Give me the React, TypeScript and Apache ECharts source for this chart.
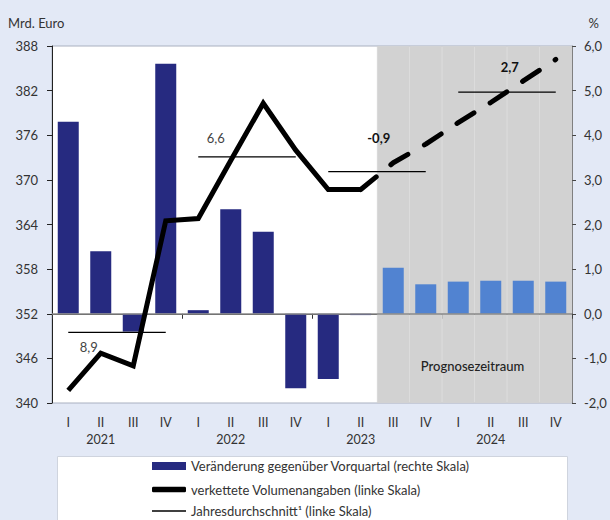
import React, { useEffect, useRef } from "react";
import * as echarts from "echarts";

// ---------- data ----------
const years = ["2021", "2022", "2023", "2024"];
const quarters = ["I", "II", "III", "IV"];
const categories = years.flatMap((y) => quarters.map((q) => `${q} ${y}`));

// Veränderung gegenüber Vorquartal in % (rechte Skala)
const changeValues = [4.3, 1.4, -0.4, 5.6, 0.08, 2.34, 1.84, -1.67, -1.46, -0.03, 1.03, 0.66, 0.72, 0.74, 0.74, 0.72];
// verkettete Volumenangaben, Mrd. Euro (linke Skala) – Ist-Werte I/2021 … II/2023
const volumeActual = [341.7, 346.7, 345.0, 364.5, 364.8, 372.6, 380.3, 374.0, 368.7, 368.7];
// Prognose II/2023 … IV/2024 (beginnt am letzten Ist-Wert)
const volumeForecastStartIndex = 9;
const volumeForecast = [368.7, 372.3, 374.8, 377.7, 380.4, 383.3, 386.2];
// first quarter of the forecast period
const forecastStart = 10;
// Jahresdurchschnitt (linke Skala) and annual growth labels
const annualAverage = [349.5, 373.1, 371.1, 381.8];
const annualGrowthLabels = ["8,9", "6,6", "-0,9", "2,7"];
const leftTicks = [340, 346, 352, 358, 364, 370, 376, 382, 388];
const rightMin = -2;
const rightMax = 6;

const barName = "Veränderung gegenüber Vorquartal (rechte Skala)";
const lineName = "verkettete Volumenangaben (linke Skala)";
const avgName = "Jahresdurchschnitt¹ (linke Skala)";
const forecastText = "Prognosezeitraum";

// ---------- styles ----------
const FONT = "Lato, 'DejaVu Sans', sans-serif";
const NAVY = "#262a80";
const LIGHT_BLUE = "#5183d1";
const SHADE = "#d2d2d2";
const BG = "#e3e9f6";
const TEXT = "#333";
const labelOffsets = [
  [-12, 15],
  [-15, -19],
  [18, -34],
  [19, -25],
];
const labelBold = [false, false, true, true];

export default function App() {
  const ref = useRef<HTMLDivElement>(null);

  useEffect(() => {
    if (!ref.current) return;
    const chart = echarts.init(ref.current, undefined, { renderer: "svg" });

    const avgSeries = annualAverage.map((avg, y) => ({
      name: avgName,
      type: "line",
      xAxisIndex: 0,
      yAxisIndex: 0,
      z: 4,
      silent: true,
      symbol: "circle",
      symbolSize: 0,
      showSymbol: true,
      showAllSymbol: true,
      itemStyle: { color: "#000" },
      lineStyle: { color: "#000", width: 1.3 },
      emphasis: { disabled: true },
      data: categories.map((_, i) => {
        if (Math.floor(i / 4) !== y) return null;
        if (i % 4 === 1) {
          return {
            value: avg,
            label: {
              show: true,
              formatter: annualGrowthLabels[y],
              position: "inside",
              offset: labelOffsets[y],
              fontSize: 13,
              fontFamily: FONT,
              fontWeight: labelBold[y] ? "bold" : "normal",
              color: labelBold[y] ? "#111" : "#444",
            },
          };
        }
        return avg;
      }),
    }));

    const legendText = { fontSize: 13, color: TEXT, fontFamily: FONT, lineHeight: 16 };

    const option: any = {
      animation: false,
      backgroundColor: BG,
      textStyle: { fontFamily: FONT },
      grid: {
        left: 52,
        right: 38,
        top: 46,
        bottom: 117,
        show: true,
        backgroundColor: "#fff",
        borderWidth: 1,
        borderColor: "#a9b0c0",
        containLabel: false,
      },
      xAxis: [
        {
          type: "category",
          data: categories,
          boundaryGap: true,
          axisLine: { show: true, lineStyle: { color: "#333", width: 1 } },
          axisTick: {
            show: true,
            interval: (i: number) => i % 4 === 0,
            length: 5,
            lineStyle: { color: "#333" },
          },
          axisLabel: {
            interval: 0,
            margin: 11,
            fontSize: 12.5,
            lineHeight: 17,
            color: TEXT,
            fontFamily: FONT,
            formatter: (v: string, i: number) => {
              const [q, yr] = v.split(" ");
              return i % 4 === 1 ? `${q}\n${yr}` : q;
            },
          },
          splitLine: { show: false },
        },
        {
          type: "category",
          data: categories,
          boundaryGap: true,
          show: false,
        },
      ],
      yAxis: [
        {
          type: "value",
          position: "left",
          min: leftTicks[0],
          max: leftTicks[leftTicks.length - 1],
          axisLine: { show: true, lineStyle: { color: "#222" } },
          axisTick: { show: true, customValues: leftTicks, length: 5, lineStyle: { color: "#222" } },
          axisLabel: { customValues: leftTicks, margin: 14, fontSize: 13, color: TEXT, fontFamily: FONT },
          splitLine: { show: false },
        },
        {
          type: "value",
          position: "right",
          min: rightMin,
          max: rightMax,
          interval: 1,
          axisLine: { show: true, lineStyle: { color: "#777" } },
          axisTick: { show: true, length: 4, lineStyle: { color: "#444" } },
          axisLabel: {
            margin: 12,
            fontSize: 13,
            color: TEXT,
            fontFamily: FONT,
            formatter: (v: number) => v.toFixed(1).replace(".", ","),
          },
          splitLine: { show: false },
        },
        { type: "value", show: false, min: 0, max: 1 },
      ],
      legend: [
        {
          data: [{ name: barName, icon: "rect" }],
          left: 152,
          top: 458,
          padding: 0,
          itemWidth: 34,
          itemHeight: 8,
          itemStyle: { borderWidth: 0 },
          textStyle: legendText,
          selectedMode: false,
        },
        {
          data: [{ name: lineName, icon: "roundRect" }],
          left: 152,
          top: 481.5,
          padding: 0,
          itemWidth: 34,
          itemHeight: 5.5,
          itemStyle: { borderWidth: 0 },
          textStyle: legendText,
          selectedMode: false,
        },
        {
          data: [{ name: avgName, icon: "rect" }],
          left: 152,
          top: 503,
          padding: 0,
          itemWidth: 34,
          itemHeight: 1.4,
          itemStyle: { borderWidth: 0 },
          textStyle: legendText,
          selectedMode: false,
        },
      ],
      graphic: [
        {
          type: "rect",
          z: -10,
          left: 57,
          top: 456,
          shape: { width: 510, height: 80 },
          style: { fill: "#fff", stroke: "#cfd4de", lineWidth: 1 },
        },
        {
          type: "text",
          left: 8,
          top: 16,
          style: { text: "Mrd. Euro", fontSize: 13, fill: TEXT, fontFamily: FONT },
        },
        {
          type: "text",
          right: 11,
          top: 16,
          style: { text: "%", fontSize: 13, fill: TEXT, fontFamily: FONT },
        },
        {
          type: "text",
          x: 472.5,
          y: 366,
          z: 10,
          style: {
            text: forecastText,
            fontSize: 13,
            fill: "#222",
            fontFamily: FONT,
            fontWeight: 500,
            align: "center",
            verticalAlign: "middle",
          },
        },
      ],
      series: [
        {
          name: "shade",
          type: "bar",
          xAxisIndex: 1,
          yAxisIndex: 2,
          barWidth: "100%",
          silent: true,
          z: 1,
          itemStyle: { color: SHADE, borderColor: SHADE, borderWidth: 0.6 },
          data: categories.map((_, i) => (i >= forecastStart ? 1 : null)),
        },
        {
          name: barName,
          type: "bar",
          xAxisIndex: 0,
          yAxisIndex: 1,
          barWidth: 21,
          z: 2,
          silent: true,
          itemStyle: { color: NAVY },
          data: changeValues.map((v, i) =>
            i >= forecastStart ? { value: v, itemStyle: { color: LIGHT_BLUE } } : v
          ),
          markLine: {
            silent: true,
            symbol: "none",
            label: { show: false },
            lineStyle: { color: "#8a8a8a", width: 1.5, type: "solid" },
            data: [{ yAxis: 0 }],
          },
        },
        {
          name: lineName,
          type: "line",
          xAxisIndex: 0,
          yAxisIndex: 0,
          z: 5,
          silent: true,
          symbol: "none",
          itemStyle: { color: "#000" },
          lineStyle: { color: "#000", width: 5, join: "miter" },
          data: volumeActual,
        },
        {
          name: lineName,
          type: "line",
          xAxisIndex: 0,
          yAxisIndex: 0,
          z: 5,
          silent: true,
          symbol: "none",
          itemStyle: { color: "#000" },
          lineStyle: { color: "#000", width: 5, type: [20, 19], cap: "round" },
          data: categories.map((_, i) =>
            i >= volumeForecastStartIndex ? volumeForecast[i - volumeForecastStartIndex] : null
          ),
        },
        ...avgSeries,
      ],
    };

    chart.setOption(option);
    return () => chart.dispose();
  }, []);

  return (
    <div
      ref={ref}
      style={{ position: "fixed", left: 0, top: 0, width: 610, height: 520, background: BG }}
    />
  );
}
